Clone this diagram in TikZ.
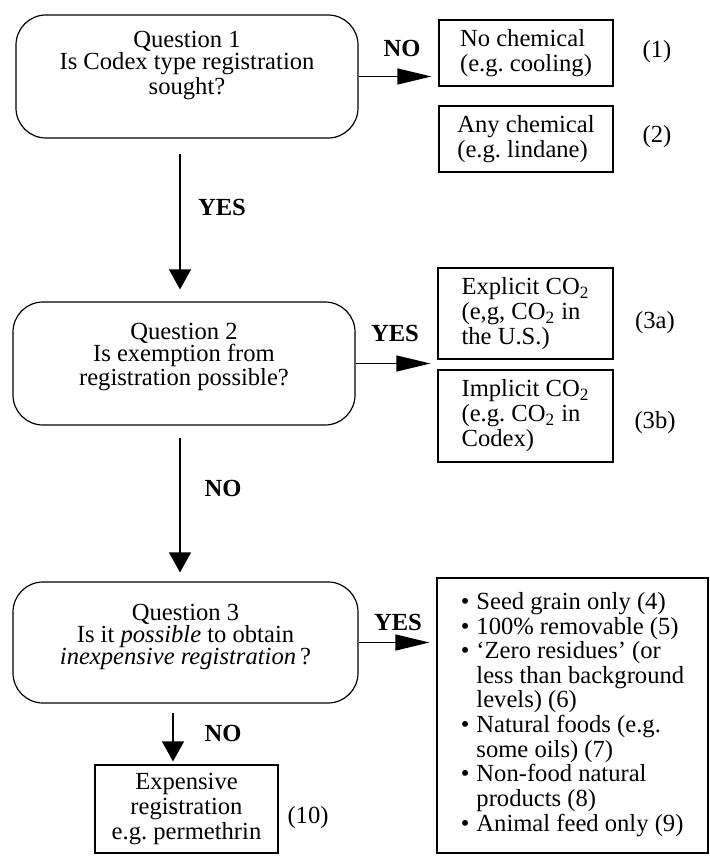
\documentclass[tikz,border=0pt]{standalone}
\usepackage{fontspec}
\setmainfont{Liberation Serif}
\usetikzlibrary{arrows.meta}
\frenchspacing

\begin{document}
\begin{tikzpicture}[x=0.5pt,y=-0.5pt,
        every node/.style={font=\fontsize{12.3}{12.5}\selectfont},
        question/.style={draw,semithick,rounded corners=15pt,minimum width=171pt,minimum height=61.5pt},
        qtext/.style={align=center,font=\fontsize{12.3}{11}\selectfont},
        box/.style={draw,semithick},
        answer/.style={box,align=left,minimum width=87pt},
        choice/.style={font=\fontsize{12.3}{12.5}\selectfont\bfseries},
        flow/.style={semithick,-{Triangle[length=10pt,width=11pt]}},
        side/.style={semithick,-{Triangle[length=17pt,width=8pt]}}]
            \useasboundingbox (0,0) rectangle (710,856);
            \coordinate (trunk) at (180,0);
            \coordinate (branch) at (173,0);

            \node[question] (q1) at (187,76.5) {};
            \node[qtext] (q1txt) at (187,65.5) {Question 1\\Is Codex type registration\\sought?};
            \node[question] (q2) at (184,363.5) {};
            \node[qtext] (q2txt) at (184,357) {Question 2\\Is exemption from\\registration possible?};
            \node[question,minimum width=172.5pt,minimum height=60.5pt] (q3) at (185.5,642.5) {};
            \node[qtext] (q3txt) at (185.5,637) {Question 3\\Is it \textit{possible} to obtain\\\textit{inexpensive registration}\,?};

            \node[answer,minimum height=33pt] (nochem) at (526,53) {No chemical\\(e.g. cooling)};
            \node[answer,minimum height=33pt] (anychem) at (526,139) {Any chemical\\(e.g. lindane)};
            \node[answer,minimum width=87.5pt,minimum height=45.5pt] (explicit) at (525.5,313.5)
                {Explicit CO\textsubscript{2}\\(e,g, CO\textsubscript{2} in\\the U.S.)};
            \node[answer,minimum width=87.5pt,minimum height=46pt] (implicit) at (525.5,416)
                {Implicit CO\textsubscript{2}\\(e.g. CO\textsubscript{2} in\\Codex)};
            \node[box,align=center,minimum width=91.5pt,minimum height=44pt] (expensive) at (186.5,809)
                {Expensive\\registration\\e.g. permethrin};
            \node[box,minimum width=135.5pt,minimum height=137.5pt,font=\fontsize{12.3}{12.3}\selectfont] (options) at (572.5,715.5) {%
                \begin{tabular}{@{}l@{\hspace{3.5pt}}l@{}}
                    \textbullet & Seed grain only (4)\\
                    \textbullet & 100\% removable (5)\\
                    \textbullet & `Zero residues' (or\\
                                & less than background\\
                                & levels) (6)\\
                    \textbullet & Natural foods (e.g.\\
                                & some oils) (7)\\
                    \textbullet & Non-food natural\\
                                & products (8)\\
                    \textbullet & Animal feed only (9)
                \end{tabular}};

            \node (n1) at (657,52) {(1)};
            \node (n2) at (657,137) {(2)};
            \node (n3a) at (655,323) {(3a)};
            \node (n3b) at (655,423) {(3b)};
            \node (n10) at (308,818) {(10)};

            \node[choice] (no1) at (402,48) {NO};
            \node[choice] (yes1) at (222,207) {YES};
            \node[choice] (yes2) at (395,333) {YES};
            \node[choice] (no2) at (223,488) {NO};
            \node[choice] (yes3) at (398,622) {YES};
            \node[choice] (no3) at (223,733) {NO};

            \draw[side] (q1.east) -- ([xshift=-3.5pt]q1.east -| nochem.west);
            \draw[flow] ([yshift=-7.5pt]q1.south -| trunk) -- ([yshift=6pt]q2.north -| trunk);
            \draw[side] (q2.east) -- ([xshift=-3.5pt]q2.east -| explicit.west);
            \draw[flow] ([yshift=-6pt]q2.south -| trunk) -- ([yshift=4.5pt]q3.north -| trunk);
            \draw[side] (q3.east) -- ([xshift=-3.5pt]q3.east -| options.west);
            \draw[flow] ([yshift=-4.5pt]q3.south -| branch) -- ([yshift=1.5pt]expensive.north -| branch);
\end{tikzpicture}
\end{document}
